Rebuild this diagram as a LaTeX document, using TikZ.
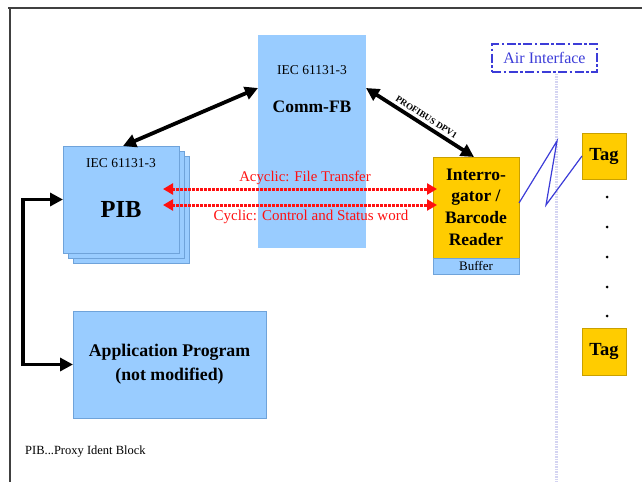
\documentclass[tikz,border=0pt]{standalone}
\usepackage{fontspec}
\setmainfont{Liberation Serif}
\usetikzlibrary{arrows.meta,calc}
\definecolor{lblue}{HTML}{99CCFF}
\definecolor{bluedge}{HTML}{6FA3DA}
\definecolor{gold}{HTML}{FFCC00}
\definecolor{goldedge}{HTML}{C9A000}
\definecolor{airblue}{HTML}{3C3CD8}
\definecolor{airline}{HTML}{D4D4F2}
\definecolor{linkred}{HTML}{FF1010}
\tikzset{
  box/.style={anchor=north west, inner sep=0pt, outer sep=0pt, minimum width=#1},
  bluebox/.style={fill=lblue, draw=bluedge, line width=0.8pt},
  goldbox/.style={fill=gold, draw=goldedge, line width=0.8pt},
  lbl/.style={inner sep=0pt, font=#1},
  thickarrow/.style={line width=3.8pt, {Triangle[length=13pt,width=13pt]}-{Triangle[length=13pt,width=13pt]}},
  redlink/.style={draw=linkred, line width=3pt, dash pattern=on 2.6pt off 1.4pt,
    {Triangle[length=10pt,width=11pt,fill=linkred]}-{Triangle[length=10pt,width=11pt,fill=linkred]}},
  frameline/.style={draw=black!75, line width=2pt},
}
\begin{document}
\begin{tikzpicture}[x=1pt,y=-1pt]
\useasboundingbox (0,0) rectangle (642,482);

% page frame (top and left edges only)
\draw[frameline] (8,7.5) -- (642,7.5);
\draw[frameline] (9.5,7.5) -- (9.5,482);

% air interface boundary
\node[draw=airblue, line width=1.3pt, dash pattern=on 9pt off 2.5pt on 2.5pt off 2.5pt,
      minimum width=105, minimum height=28, inner sep=0pt, text=airblue,
      font=\fontsize{16}{18}\selectfont] (air) at (544.5,58) {Air Interface};
\coordinate (airbottom) at (556,482);
\draw[airline, line width=3pt, dash pattern=on 1.6pt off 0.9pt] ($(air.south)+(11.5,1)$) -- (airbottom);

% Comm-FB block
\node[box=108, minimum height=213, fill=lblue] (comm) at (258,35) {};
\node[lbl=\fontsize{13.5}{15}\selectfont] (commiec) at (312,70) {IEC 61131-3};
\node[lbl=\fontsize{17.5}{20}\selectfont\bfseries] (commname) at (312,107) {Comm-FB};

% PIB block (stack of three)
\node[box=116, minimum height=107, bluebox] (pib3) at (73,156) {};
\node[box=116, minimum height=107, bluebox] (pib2) at (68,151) {};
\node[box=116, minimum height=107, bluebox] (pib) at (63,146) {};
\node[lbl=\fontsize{13.5}{15}\selectfont] (pibiec) at (121,163) {IEC 61131-3};
\node[lbl=\fontsize{24.5}{28}\selectfont\bfseries] (pibname) at (121,210) {PIB};

% interrogator / barcode reader with buffer
\node[box=86, minimum height=101, goldbox] (intr) at (433,157) {};
\node[box=86, minimum height=16, bluebox] (buf) at (433,258) {};
\node[lbl=\fontsize{17.5}{21.6}\selectfont\bfseries, align=center] (intrtext) at (476,207)
  {Interro-\\gator /\\Barcode\\Reader};
\node[lbl=\fontsize{13}{14}\selectfont] (buftext) at (buf.center) {Buffer};

% tags
\node[box=44, minimum height=46, goldbox] (tagtop) at (582,133) {};
\node[lbl=\fontsize{18.5}{20}\selectfont\bfseries] (tagtoptext) at (tagtop.center) {Tag};
\node[box=44, minimum height=47, goldbox] (tagbot) at (582,328) {};
\node[lbl=\fontsize{18.5}{20}\selectfont\bfseries] (tagbottext) at (tagbot.center) {Tag};
\foreach \yy [count=\i] in {197,227,257,287,316}
  \fill (607,\yy) circle (1.5pt) coordinate (dot\i);

% application program
\node[box=193, minimum height=107, bluebox] (app) at (73,311) {};
\node[lbl=\fontsize{17.8}{24}\selectfont\bfseries, align=center] (apptext) at (app.center)
  {Application Program\\(not modified)};

% legend
\node[lbl=\fontsize{12.5}{14}\selectfont, anchor=west] (legend) at (25,452) {PIB...Proxy Ident Block};

% connectors
\draw[thickarrow] (pib.west) -- ++(-40,0) |- (app.west);
\draw[thickarrow] ($(pib.north)+(2,0)$) -- ($(comm.north west)+(0,53)$);
\draw[thickarrow] ($(comm.north east)+(0,53)$) --
  node[pos=0.52, above=3pt, sloped, lbl=\fontsize{9}{10}\selectfont\bfseries] (profibus) {PROFIBUS DPV1}
  ($(intr.north west)+(41,0)$);

\draw[redlink] ($(pib.east)+(-16,-10.5)$) -- ($(intr.west)+(4,-18.5)$);
\draw[redlink] ($(pib.east)+(-16,5.5)$) -- ($(intr.west)+(4,-2.5)$);
\node[lbl=\fontsize{14.8}{16}\selectfont, text=linkred] (acyc) at (305,178) {Acyclic: File Transfer};
\node[lbl=\fontsize{15}{16}\selectfont, text=linkred] (cyc) at (311,217) {Cyclic: Control and Status word};

% radio link
\draw[airblue, line width=1.2pt] ($(intr.east)+(0,-4.5)$) -- (557,141) -- (546,205) -- (tagtop.west);
\end{tikzpicture}
\end{document}
